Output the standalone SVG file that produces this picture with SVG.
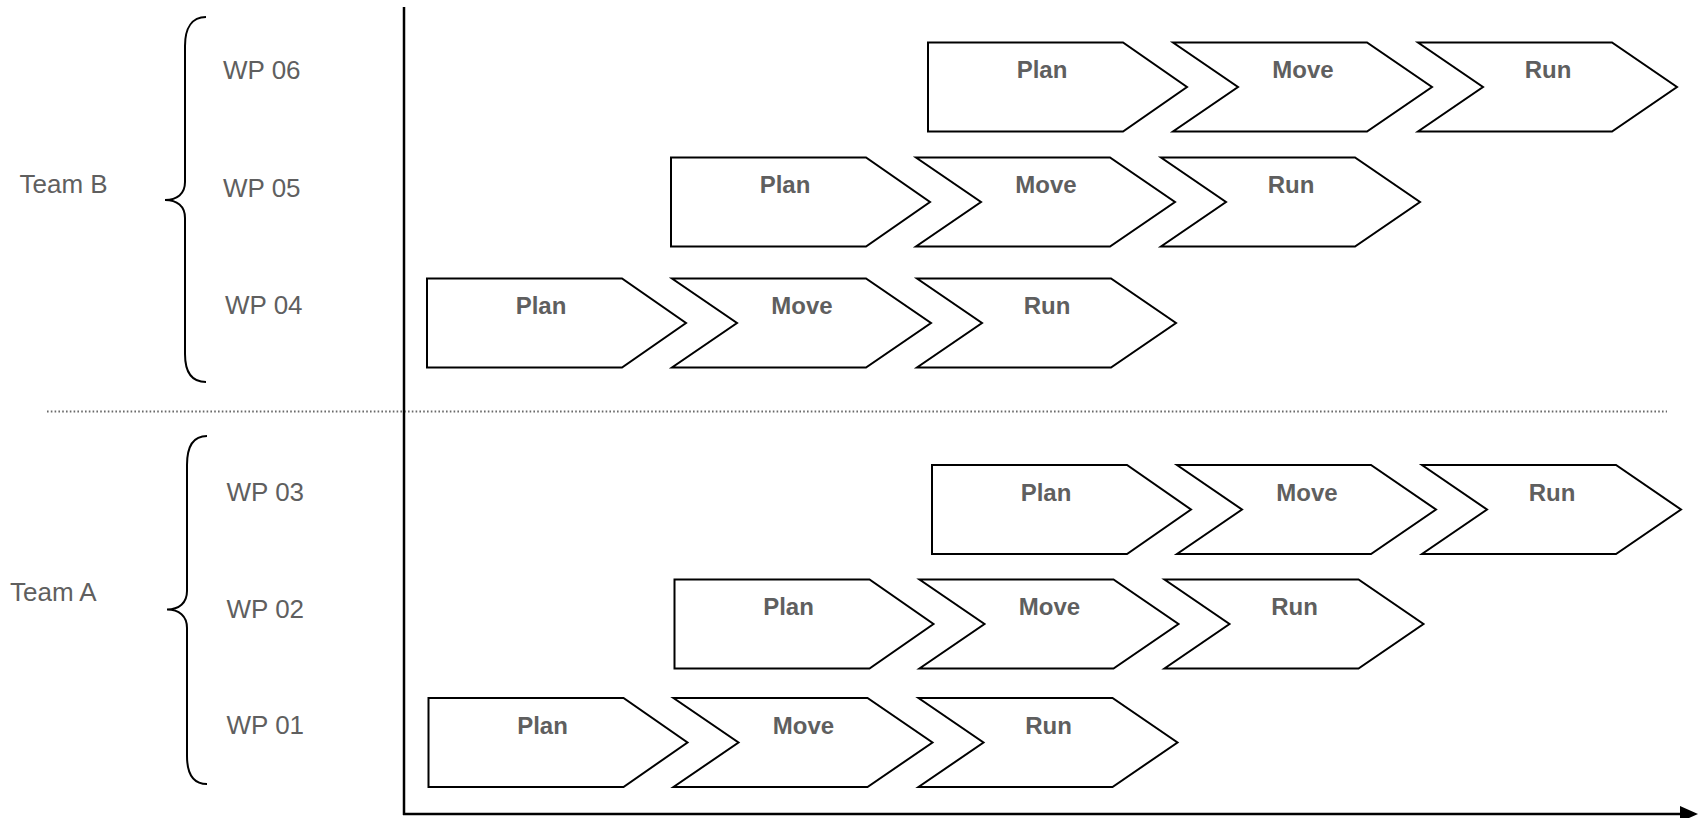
<svg xmlns="http://www.w3.org/2000/svg" width="1698" height="818" viewBox="0 0 1698 818">
<defs>
<style>
.lbl{font-family:"Liberation Sans",Arial,sans-serif;font-size:26px;fill:#5f5f5f}
.step{font-family:"Liberation Sans",Arial,sans-serif;font-size:24px;font-weight:bold;fill:#5f5f5f;text-anchor:middle}
.shape{fill:#fff;stroke:#000;stroke-width:2;stroke-linejoin:miter}
.brace{fill:none;stroke:#000;stroke-width:2}
</style>
<path id="pent" d="M0,0 H195 L259,44.5 L195,89 H0 Z"/>
<path id="chev" d="M0,0 H194 L259,44.5 L194,89 H0 L65,44.5 Z"/>
</defs>
<rect width="1698" height="818" fill="#fff"/>

<g id="connectors">
<line x1="47" y1="411.5" x2="1667" y2="411.5" stroke="#6a6a6a" stroke-width="1.8" stroke-dasharray="1.6 2.2"/>
<line x1="404" y1="7" x2="404" y2="815" stroke="#000" stroke-width="2.5"/>
<path d="M403,814 H1680" stroke="#000" stroke-width="2.5"/>
<path d="M1680,806 L1698,814 L1680,822 Z" fill="#000"/>
</g>

<g id="teamB">
<path class="brace" d="M206,17 C192,17 185,28 185,46 L185,182 C185,194 177,200 165,200 C177,200 185,206 185,218 L185,354 C185,372 192,382 206,382"/>
<text class="lbl" x="19.5" y="192.5">Team B</text>
</g>
<g id="teamA">
<path class="brace" d="M207,436 C193,436 187,447 187,465 L187,591 C187,603 179,609.5 167,609.5 C179,609.5 187,616 187,628 L187,756 C187,774 193,784 207,784"/>
<text class="lbl" x="10" y="600.5">Team A</text>
</g>

<g id="wp06">
<text class="lbl" x="223" y="79">WP 06</text>
<g transform="translate(928,42.5)">
<use href="#pent" class="shape"/><text class="step" x="114" y="35.5">Plan</text>
<use href="#chev" class="shape" x="245"/><text class="step" x="375" y="35.5">Move</text>
<use href="#chev" class="shape" x="490"/><text class="step" x="620" y="35.5">Run</text>
</g>
</g>
<g id="wp05">
<text class="lbl" x="223" y="196.5">WP 05</text>
<g transform="translate(671,157.5)">
<use href="#pent" class="shape"/><text class="step" x="114" y="35.5">Plan</text>
<use href="#chev" class="shape" x="245"/><text class="step" x="375" y="35.5">Move</text>
<use href="#chev" class="shape" x="490"/><text class="step" x="620" y="35.5">Run</text>
</g>
</g>
<g id="wp04">
<text class="lbl" x="225" y="314">WP 04</text>
<g transform="translate(427,278.5)">
<use href="#pent" class="shape"/><text class="step" x="114" y="35.5">Plan</text>
<use href="#chev" class="shape" x="245"/><text class="step" x="375" y="35.5">Move</text>
<use href="#chev" class="shape" x="490"/><text class="step" x="620" y="35.5">Run</text>
</g>
</g>
<g id="wp03">
<text class="lbl" x="226.5" y="500.5">WP 03</text>
<g transform="translate(932,465)">
<use href="#pent" class="shape"/><text class="step" x="114" y="35.5">Plan</text>
<use href="#chev" class="shape" x="245"/><text class="step" x="375" y="35.5">Move</text>
<use href="#chev" class="shape" x="490"/><text class="step" x="620" y="35.5">Run</text>
</g>
</g>
<g id="wp02">
<text class="lbl" x="226.5" y="618">WP 02</text>
<g transform="translate(674.5,579.5)">
<use href="#pent" class="shape"/><text class="step" x="114" y="35.5">Plan</text>
<use href="#chev" class="shape" x="245"/><text class="step" x="375" y="35.5">Move</text>
<use href="#chev" class="shape" x="490"/><text class="step" x="620" y="35.5">Run</text>
</g>
</g>
<g id="wp01">
<text class="lbl" x="226.5" y="733.5">WP 01</text>
<g transform="translate(428.5,698)">
<use href="#pent" class="shape"/><text class="step" x="114" y="35.5">Plan</text>
<use href="#chev" class="shape" x="245"/><text class="step" x="375" y="35.5">Move</text>
<use href="#chev" class="shape" x="490"/><text class="step" x="620" y="35.5">Run</text>
</g>
</g>
</svg>
